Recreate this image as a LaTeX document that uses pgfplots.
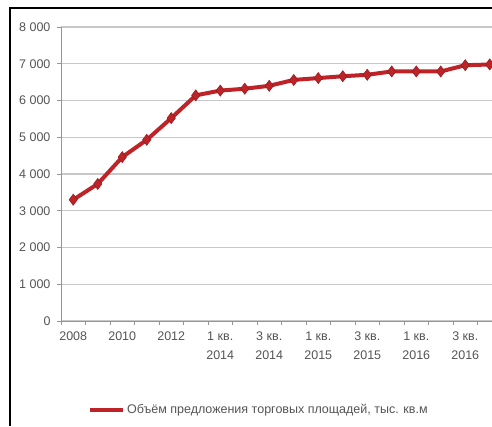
\documentclass[border=0pt]{standalone}
\usepackage{pgfplots}
\pgfplotsset{compat=1.18}
\usepackage{fontspec}
\setmainfont{Liberation Sans}
\definecolor{lineRed}{RGB}{190,35,40}
\definecolor{gridGray}{RGB}{200,200,200}
\definecolor{axisGray}{RGB}{150,150,150}
\definecolor{textGray}{RGB}{85,85,85}

% Supply of retail space, thousand sq. m
\pgfplotstableread{
x  y
0  3300
1  3730
2  4460
3  4930
4  5520
5  6140
6  6270
7  6320
8  6400
9  6560
10 6610
11 6660
12 6700
13 6790
14 6790
15 6790
16 6960
17 6980
}\supplydata

\begin{document}
\begin{tikzpicture}[x=1pt,y=1pt]
\useasboundingbox (0,0) rectangle (492,426);
\clip (0,0) rectangle (492,426);
\fill[white] (0,0) rectangle (492,426);
\begin{axis}[
  at={(61pt,105pt)}, anchor=south west,
  scale only axis,
  width=441pt, height=294pt,
  xmin=-0.5, xmax=17.5,
  ymin=0, ymax=8000,
  clip=false,
  axis x line*=bottom,
  axis y line*=left,
  axis line style={axisGray, line width=1pt},
  xtick={0,2,4,6,8,10,12,14,16},
  xticklabels={2008,2010,2012,{1 кв.\\2014},{3 кв.\\2014},{1 кв.\\2015},{3 кв.\\2015},{1 кв.\\2016},{3 кв.\\2016}},
  minor xtick={-0.5,0.5,...,17.5},
  major x tick style={draw=none},
  minor x tick style={axisGray, line width=1pt},
  minor tick length=4pt,
  ytick={0,1000,...,8000},
  yticklabels={0,1 000,2 000,3 000,4 000,5 000,6 000,7 000,8 000},
  y tick style={axisGray, line width=1pt},
  major tick length=4pt,
  tick align=outside,
  ymajorgrids,
  major grid style={gridGray, line width=1.2pt},
  xticklabel style={font=\fontsize{12.5}{19}\selectfont, text=textGray, align=center, yshift=-3pt},
  yticklabel style={font=\fontsize{12.5}{14}\selectfont, text=textGray, xshift=-3pt},
  legend style={draw=none, fill=none, at={(0.062,-0.302)}, anchor=west,
    font=\fontsize{12.5}{14}\selectfont, text=textGray, inner sep=0pt,
    /tikz/every even column/.append style={column sep=0pt}},
  legend image code/.code={\draw[#1, mark=none, line width=3.5pt] (0pt,0pt) -- (33pt,0pt);},
]
\addplot[lineRed, line width=4pt, mark=diamond*, mark size=5.5pt,
  mark options={fill=lineRed, draw=lineRed!80!black, line width=0.6pt}]
  table[x=x, y=y] {\supplydata};
\addlegendentry{Объём предложения торговых площадей, тыс. кв.м}
\end{axis}
\draw[black, line width=2pt] (10,0) -- (10,418) -- (492,418);
\end{tikzpicture}
\end{document}
